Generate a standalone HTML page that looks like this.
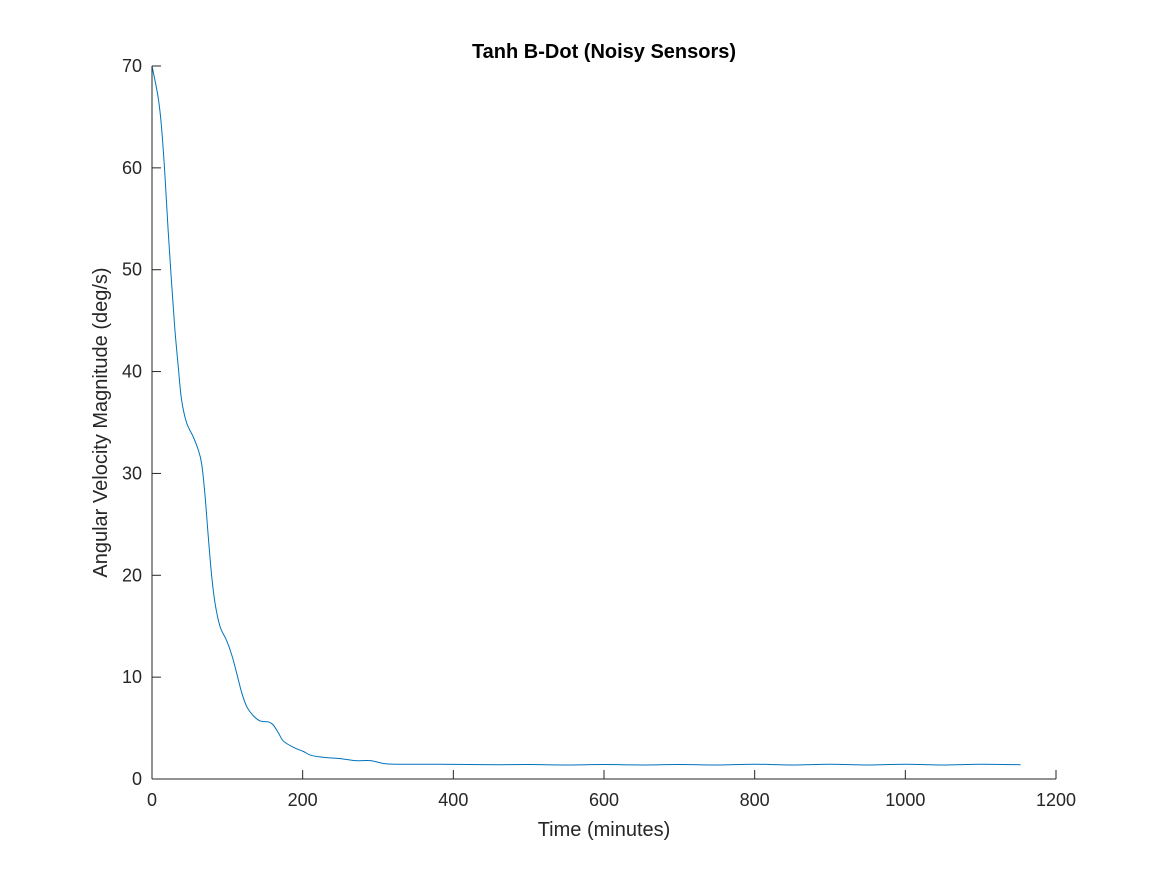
<!DOCTYPE html>
<html><head><meta charset="utf-8"><style>
html,body{margin:0;padding:0;background:#fff;}
svg{display:block;font-family:"Liberation Sans",Arial,sans-serif;}
</style></head><body>
<svg id="chart" width="1167" height="875">
<rect width="1167" height="875" fill="#fff"/>
<g id="plot"></g>
</svg>
<script>
const timeMinutes = [0,8,12.4,16.9,21.3,25.8,30.2,34.7,39.1,45.8,54.7,61,65.8,70.2,74.7,79,83.6,90.2,99,105.8,112.4,119,125.8,134.7,143.6,154.7,161,168,174.7,188,201,212,232,250,270,290,310,340,380,420,460,500,550,600,650,700,750,800,850,900,950,1000,1050,1100,1153];
const angVel = [70,67,64.2,59.6,54,48.9,44.3,40.6,37.3,35,33.6,32.4,31,28,23.8,20.1,17.3,15,13.6,12.2,10.4,8.5,7.1,6.2,5.7,5.6,5.3,4.5,3.7,3.1,2.7,2.3,2.1,2.0,1.8,1.8,1.5,1.45,1.45,1.42,1.4,1.42,1.38,1.42,1.38,1.42,1.38,1.45,1.38,1.45,1.38,1.45,1.38,1.45,1.4];
const xTicks = [0,200,400,600,800,1000,1200];
const yTicks = [0,10,20,30,40,50,60,70];

const L=152,R=1056,T=66,B=779;
const xs=v=>L+(v-0)/1200*(R-L);
const ys=v=>B-(v-0)/70*(B-T);
const NS="http://www.w3.org/2000/svg";
const g=document.getElementById('plot');
function mk(tag,attrs,parent){const e=document.createElementNS(NS,tag);for(const k in attrs)e.setAttribute(k,attrs[k]);(parent||g).appendChild(e);return e;}

const P=timeMinutes.map((t,i)=>[xs(t),ys(angVel[i])]);
let d='M'+P[0][0].toFixed(2)+','+P[0][1].toFixed(2);
for(let i=0;i<P.length-1;i++){
  const p0=P[Math.max(0,i-1)],p1=P[i],p2=P[i+1],p3=P[Math.min(P.length-1,i+2)];
  const c1=[p1[0]+(p2[0]-p0[0])/6,p1[1]+(p2[1]-p0[1])/6];
  const c2=[p2[0]-(p3[0]-p1[0])/6,p2[1]-(p3[1]-p1[1])/6];
  d+=' C'+c1[0].toFixed(2)+','+c1[1].toFixed(2)+' '+c2[0].toFixed(2)+','+c2[1].toFixed(2)+' '+p2[0].toFixed(2)+','+p2[1].toFixed(2);
}
const line=mk('path',{d:d,fill:'none',stroke:'#0072BD','stroke-width':1});



const xa=mk('line',{x1:L,y1:B,x2:R,y2:B,stroke:'#262626','stroke-width':1});


const ya=mk('line',{x1:L,y1:B,x2:L,y2:T,stroke:'#262626','stroke-width':1});



xTicks.forEach(v=>{
  const x=xs(v);
  const tk=mk('line',{x1:x,y1:B,x2:x,y2:B-9,stroke:'#262626','stroke-width':1});
  
  
  const tx=mk('text',{x:x,y:B+27,'text-anchor':'middle','font-size':18,fill:'#262626'});
  tx.textContent=v;
  
  
});
yTicks.forEach(v=>{
  const y=ys(v);
  const tk=mk('line',{x1:L,y1:y,x2:L+9,y2:y,stroke:'#262626','stroke-width':1});
  
  
  const tx=mk('text',{x:L-10,y:y+6,'text-anchor':'end','font-size':18,fill:'#262626'});
  tx.textContent=v;
  
  
});

const xl=mk('text',{x:(L+R)/2,y:836,'text-anchor':'middle','font-size':20,fill:'#262626'});
xl.textContent='Time (minutes)';


const yl=mk('text',{x:0,y:0,'text-anchor':'middle','font-size':20,fill:'#262626',transform:'translate(107,'+((T+B)/2)+') rotate(-90)'});
yl.textContent='Angular Velocity Magnitude (deg/s)';


const tt=mk('text',{x:(L+R)/2,y:58,'text-anchor':'middle','font-size':20,'font-weight':'bold',fill:'#000'});
tt.textContent='Tanh B-Dot (Noisy Sensors)';


</script>
</body></html>
